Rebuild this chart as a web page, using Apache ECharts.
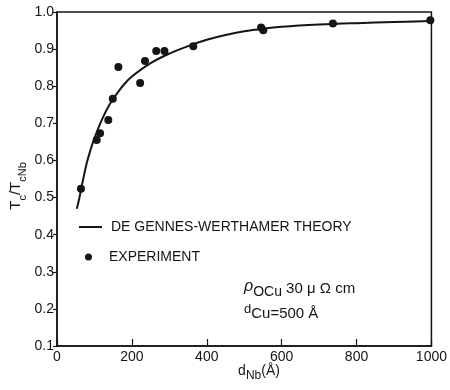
<!DOCTYPE html>
<html>
<head>
<meta charset="utf-8">
<script src="https://cdn.jsdelivr.net/npm/echarts@6/dist/echarts.min.js"></script>
<style>
	html, body { margin: 0; padding: 0; background: #fff; }
	#chart { width: 450px; height: 390px; }
</style>
</head>
<body>
<div id="chart"></div>
<script>
// measured points, d_Nb (Å) vs Tc/TcNb
var expD = [64, 106, 115, 137, 149, 164, 222, 235, 265, 287, 364, 545, 551, 737, 997];
var expT = [0.524, 0.655, 0.673, 0.709, 0.766, 0.852, 0.809, 0.868, 0.895, 0.895, 0.908, 0.958, 0.951, 0.969, 0.978];

// de Gennes-Werthamer theory curve
var theoryD = [53, 60, 70, 80, 90, 100, 120, 140, 160, 180, 200, 250, 300, 350, 400, 450, 500, 550, 600, 700, 800, 900, 1000];
var theoryT = [0.47, 0.50, 0.55, 0.595, 0.63, 0.66, 0.71, 0.75, 0.78, 0.806, 0.826, 0.862, 0.888, 0.908, 0.925, 0.938, 0.948, 0.955, 0.96, 0.966, 0.97, 0.973, 0.976];

var FONT = 'Liberation Sans';
var INK = '#151515';

function pairs(xs, ys) {
	var out = [];
	for (var i = 0; i < xs.length; i++) {
		out.push([xs[i], ys[i]]);
	}
	return out;
}

var legendText = { fontFamily: FONT, fontSize: 14, color: INK, padding: [0, 0, 0, 4] };

var chart = echarts.init(document.getElementById('chart'));

chart.setOption({
	animation: false,
	backgroundColor: '#fff',
	textStyle: { fontFamily: FONT, color: INK },
	grid: {
		left: 57,
		right: 18,
		top: 12,
		bottom: 44,
		show: true,
		borderColor: INK,
		borderWidth: 1.5,
		backgroundColor: 'transparent'
	},
	legend: [
		{
			left: 74,
			top: 215,
			itemWidth: 23,
			itemHeight: 2,
			icon: 'rect',
			data: ['DE GENNES-WERTHAMER THEORY'],
			textStyle: legendText
		},
		{
			left: 80,
			top: 245,
			itemWidth: 23,
			itemHeight: 7,
			icon: 'circle',
			data: ['EXPERIMENT'],
			textStyle: legendText
		}
	],
	xAxis: {
		type: 'value',
		min: 0,
		max: 1000,
		interval: 200,
		axisLine: { lineStyle: { color: INK, width: 1.5 } },
		axisTick: { inside: true, length: 7, lineStyle: { color: INK, width: 1.2 } },
		axisLabel: {
			fontFamily: FONT, fontSize: 14, color: INK, margin: 4,
			formatter: function (v) { return String(v); }
		},
		splitLine: { show: false }
	},
	yAxis: {
		type: 'value',
		min: 0.1,
		max: 1.0,
		interval: 0.1,
		axisLine: { lineStyle: { color: INK, width: 1.5 } },
		axisTick: { inside: false, length: 4, lineStyle: { color: INK, width: 1.2 } },
		axisLabel: {
			fontFamily: FONT, fontSize: 14, color: INK, margin: 3,
			formatter: function (v) { return v.toFixed(1); }
		},
		splitLine: { show: false }
	},
	series: [
		{
			name: 'DE GENNES-WERTHAMER THEORY',
			type: 'line',
			data: pairs(theoryD, theoryT),
			smooth: 0.4,
			symbol: 'none',
			lineStyle: { color: INK, width: 2 },
			itemStyle: { color: INK },
			z: 2
		},
		{
			name: 'EXPERIMENT',
			type: 'scatter',
			data: pairs(expD, expT),
			symbol: 'circle',
			symbolSize: 8,
			itemStyle: { color: INK, opacity: 1 },
			z: 3
		}
	],
	graphic: [
		{
			type: 'text',
			x: 18,
			y: 186,
			rotation: Math.PI / 2,
			style: {
				text: '{m|T}{s|c}{m|/T}{s|cNb}',
				align: 'center',
				verticalAlign: 'middle',
				fill: INK,
				rich: {
					m: { fontFamily: FONT, fontSize: 15, lineHeight: 20, verticalAlign: 'top', fill: INK },
					s: { fontFamily: FONT, fontSize: 11, lineHeight: 20, verticalAlign: 'bottom', fill: INK }
				}
			}
		},
		{
			type: 'text',
			x: 259,
			y: 373,
			style: {
				text: '{m|d}{s|Nb}{m|(Å)}',
				align: 'center',
				verticalAlign: 'middle',
				fill: INK,
				rich: {
					m: { fontFamily: FONT, fontSize: 14, lineHeight: 18, verticalAlign: 'top', fill: INK },
					s: { fontFamily: FONT, fontSize: 12, lineHeight: 18, verticalAlign: 'bottom', fill: INK }
				}
			}
		},
		{
			type: 'text',
			x: 244,
			y: 289,
			style: {
				text: '{r|ρ}{s|OCu}{m| 30 μ Ω cm}',
				verticalAlign: 'middle',
				fill: INK,
				rich: {
					r: { fontFamily: FONT, fontSize: 16, fontStyle: 'italic', lineHeight: 20, verticalAlign: 'top', fill: INK },
					m: { fontFamily: FONT, fontSize: 15, lineHeight: 20, verticalAlign: 'middle', fill: INK },
					s: { fontFamily: FONT, fontSize: 14, lineHeight: 20, verticalAlign: 'bottom', fill: INK }
				}
			}
		},
		{
			type: 'text',
			x: 244,
			y: 312,
			style: {
				text: '{d|d}{m|Cu=500 Å}',
				verticalAlign: 'middle',
				fill: INK,
				rich: {
					d: { fontFamily: FONT, fontSize: 13, lineHeight: 18, verticalAlign: 'top', fill: INK },
					m: { fontFamily: FONT, fontSize: 15, lineHeight: 18, verticalAlign: 'bottom', fill: INK }
				}
			}
		}
	]
});
</script>
</body>
</html>
